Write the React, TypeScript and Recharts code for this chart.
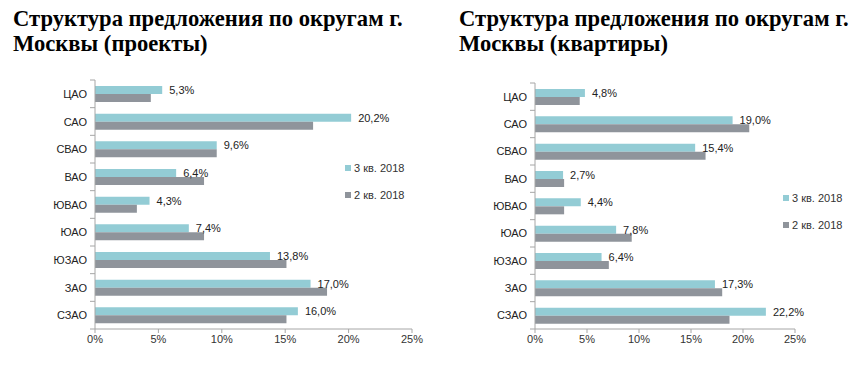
import { BarChart, Bar, XAxis, YAxis, Legend, LabelList } from 'recharts'

const districts = ['ЦАО', 'САО', 'СВАО', 'ВАО', 'ЮВАО', 'ЮАО', 'ЮЗАО', 'ЗАО', 'СЗАО']
const projectsQ3 = [5.3, 20.2, 9.6, 6.4, 4.3, 7.4, 13.8, 17.0, 16.0]
const projectsQ2 = [4.4, 17.2, 9.6, 8.6, 3.3, 8.6, 15.1, 18.3, 15.1]
const flatsQ3 = [4.8, 19.0, 15.4, 2.7, 4.4, 7.8, 6.4, 17.3, 22.2]
const flatsQ2 = [4.3, 20.6, 16.4, 2.8, 2.8, 9.3, 7.1, 18.0, 18.7]
const xTicks = [0, 5, 10, 15, 20, 25]
const seriesOrder = ['q3', 'q2']

const TEAL = '#93CCD5'
const GREY = '#8F949B'
const AXIS = '#A6A6A6'
const FONT = 'Arial, "Liberation Sans", sans-serif'

const pct = (v: number) => `${v.toFixed(1).replace('.', ',')}%`

const rows = (q3: number[], q2: number[]) =>
  districts.map((name, i) => ({ name, q3: q3[i], q2: q2[i] }))

// category ticks sit on band boundaries, Excel style
const makeTick = (band: number, last: string) => (props: any) => {
  const { x, y, payload } = props
  const ax = x + 8
  return (
    <g>
      <text x={x} y={y} dy={4} textAnchor="end" fontSize={11} fill="#222" fontFamily={FONT}>
        {payload.value}
      </text>
      <line x1={ax - 5} x2={ax} y1={y - band / 2} y2={y - band / 2} stroke={AXIS} />
      {payload.value === last && (
        <line x1={ax - 5} x2={ax} y1={y + band / 2} y2={y + band / 2} stroke={AXIS} />
      )}
    </g>
  )
}

const LegendBox = ({ payload }: any) => {
  const items = [...(payload || [])].sort(
    (a: any, b: any) => seriesOrder.indexOf(a.dataKey) - seriesOrder.indexOf(b.dataKey)
  )
  return (
    <div style={{ fontFamily: FONT, fontSize: 11, color: '#333' }}>
      {items.map((p: any) => (
        <div key={p.value} style={{ display: 'flex', alignItems: 'center', height: 27 }}>
          <span style={{ width: 6, height: 6, background: p.color, marginRight: 3 }} />
          {p.value}
        </div>
      ))}
    </div>
  )
}

type ChartProps = {
  title: string
  data: { name: string; q3: number; q2: number }[]
  left: number
  width: number
  top: number
  right: number
  legendX: number
  legendY: number
}

function DistrictChart({ title, data, left, width, top, right, legendX, legendY }: ChartProps) {
  const band = (390 - 61 - top) / data.length
  return (
    <div style={{ position: 'absolute', left, top: 0, width, height: 390 }}>
      <BarChart
        width={width}
        height={390}
        layout="vertical"
        data={data}
        barSize={8}
        barGap={0}
        margin={{ top, right, left: 0, bottom: 31 }}
      >
        <XAxis
          type="number"
          domain={[0, 25]}
          ticks={xTicks}
          tickFormatter={(v: number) => `${v}%`}
          height={30}
          stroke={AXIS}
          tickSize={4}
          tick={{ fontSize: 11, fill: '#333', fontFamily: FONT }}
        />
        <YAxis
          type="category"
          dataKey="name"
          width={95}
          stroke={AXIS}
          tickLine={false}
          tick={makeTick(band, data[data.length - 1].name)}
        />
        <Legend
          layout="vertical"
          align="center"
          verticalAlign="middle"
          content={<LegendBox />}
          wrapperStyle={{ left: legendX, top: legendY, width: 80 }}
        />
        <Bar dataKey="q3" name="3 кв. 2018" fill={TEAL} isAnimationActive={false}>
          <LabelList
            dataKey="q3"
            position="right"
            offset={7}
            formatter={(v: any) => pct(Number(v))}
            style={{ fontSize: 11, fill: '#222', fontFamily: FONT }}
          />
        </Bar>
        <Bar dataKey="q2" name="2 кв. 2018" fill={GREY} isAnimationActive={false} />
      </BarChart>
      <div
        style={{
          position: 'absolute',
          left: left === 0 ? 13 : 19,
          top: 6,
          fontFamily: '"Liberation Serif", "Times New Roman", serif',
          fontWeight: 'bold',
          fontSize: 22.6,
          lineHeight: '25px',
          color: '#000',
          whiteSpace: 'pre',
        }}
      >
        {title}
      </div>
    </div>
  )
}

export default function App() {
  return (
    <div style={{ position: 'absolute', left: 0, top: 0, width: 864, height: 390, background: '#fff' }}>
      <DistrictChart
        title={'Структура предложения по округам г.\nМосквы (проекты)'}
        data={rows(projectsQ3, projectsQ2)}
        left={0}
        width={430}
        top={80}
        right={18}
        legendX={345}
        legendY={154}
      />
      <DistrictChart
        title={'Структура предложения по округам г.\nМосквы (квартиры)'}
        data={rows(flatsQ3, flatsQ2)}
        left={440}
        width={424}
        top={83}
        right={69}
        legendX={343}
        legendY={184}
      />
    </div>
  )
}
